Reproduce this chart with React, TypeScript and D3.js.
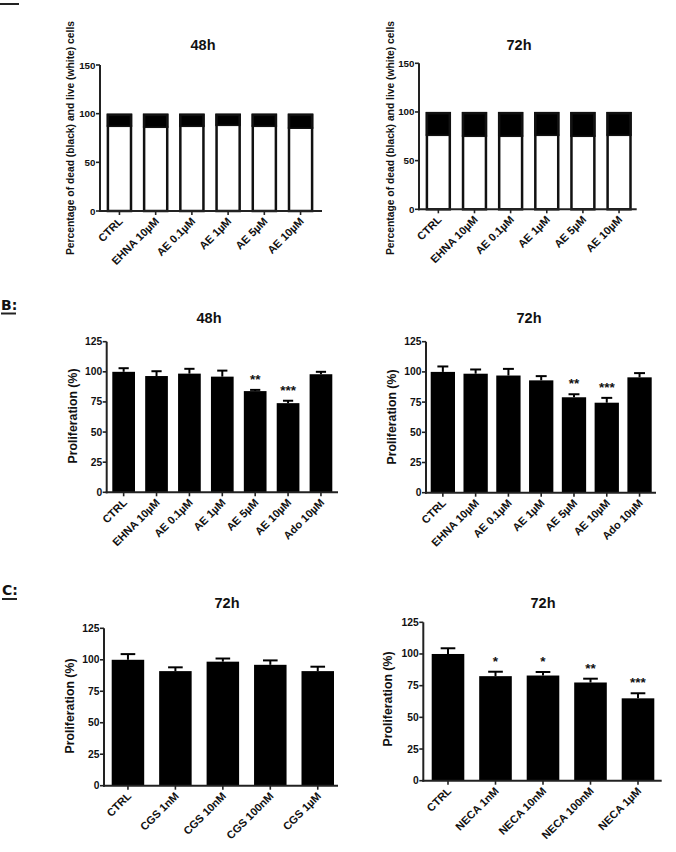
import React from "react";
import * as d3 from "d3";

// ---------- data ----------
const catA = ["CTRL", "EHNA 10µM", "AE 0.1µM", "AE 1µM", "AE 5µM", "AE 10µM"];
const liveA48 = [87, 86, 87, 88, 87, 85];
const liveA72 = [76, 75, 75, 76, 75, 76];
const ticksA = [0, 50, 100, 150];

const catB = ["CTRL", "EHNA 10µM", "AE 0.1µM", "AE 1µM", "AE 5µM", "AE 10µM", "Ado 10µM"];
const profB48 = [100, 96.5, 98.5, 96, 84, 74, 98];
const errB48 = [3, 4, 4, 5, 1, 2, 2];
const starsB48 = ["", "", "", "", "**", "***", ""];
const profB72 = [100, 98.5, 97, 93, 79, 74.5, 95.5];
const errB72 = [4.5, 3.5, 5.5, 3.5, 2.5, 4, 3.5];
const starsB72 = ["", "", "", "", "**", "***", ""];
const ticksB = [0, 25, 50, 75, 100, 125];

const catCgs = ["CTRL", "CGS 1nM", "CGS 10nM", "CGS 100nM", "CGS 1µM"];
const profCgs = [100, 91, 98.5, 96, 91];
const errCgs = [4.5, 3, 2.5, 3.5, 3.5];
const starsCgs = ["", "", "", "", ""];

const catNeca = ["CTRL", "NECA 1nM", "NECA 10nM", "NECA 100nM", "NECA 1µM"];
const profNeca = [100, 82.5, 83, 77.5, 65];
const errNeca = [4.5, 3.5, 2.8, 3, 4];
const starsNeca = ["", "*", "*", "**", "***"];

const FONT = "'Liberation Sans', Arial, Helvetica, sans-serif";

type PanelProps = {
  mode: "stack" | "bar";
  cats: string[];
  values: number[];
  errs?: number[];
  stars?: string[];
  ticks: number[];
  max: number;
  axisX: number;
  axisEnd: number;
  y0: number;
  yMax: number;
  firstLeft: number;
  lastRight: number;
  barW: number;
  title: string;
  titleX: number;
  titleY: number;
  ylabel: string;
  ylabelX: number;
  ylabelY: number;
  ylabelSize: number;
  tickSize: number;
};

function Panel(p: PanelProps) {
  const n = p.cats.length;
  const step = (p.lastRight - p.firstLeft - p.barW) / (n - 1);
  const pad = (step - p.barW) / step;
  const x = d3
    .scaleBand<string>()
    .domain(p.cats)
    .range([p.firstLeft - (step * pad) / 2, p.lastRight + (step * pad) / 2])
    .paddingInner(pad)
    .paddingOuter(pad / 2);
  const y = d3.scaleLinear().domain([0, p.max]).range([p.y0, p.yMax]);
  const bw = x.bandwidth();
  return (
    <g fontFamily={FONT} fontWeight="bold" fill="#111">
      <text x={p.titleX} y={p.titleY} textAnchor="middle" fontSize={14.5}>
        {p.title}
      </text>
      <text
        transform={`translate(${p.ylabelX},${p.ylabelY}) rotate(-90)`}
        textAnchor="middle"
        dominantBaseline="central"
        fontSize={p.ylabelSize}
      >
        {p.ylabel}
      </text>
      {p.cats.map((c, i) => {
        const bx = x(c)!;
        const v = p.values[i];
        if (p.mode === "stack") {
          return (
            <g key={c}>
              <rect x={bx} y={y(100)} width={bw} height={y(v) - y(100)} fill="#000" />
              <rect
                x={bx + 1.2}
                y={y(100) + 1.2}
                width={bw - 2.4}
                height={y(0) - y(100) - 1.2}
                fill="none"
                stroke="#111"
                strokeWidth={2.5}
              />
              <line x1={bx} x2={bx + bw} y1={y(v)} y2={y(v)} stroke="#111" strokeWidth={1.5} />
            </g>
          );
        }
        const e = p.errs ? p.errs[i] : 0;
        const cx = bx + bw / 2;
        const cap = bw * 0.45;
        return (
          <g key={c}>
            <line x1={cx} x2={cx} y1={y(v)} y2={y(v + e)} stroke="#000" strokeWidth={2} />
            <line
              x1={cx - cap / 2}
              x2={cx + cap / 2}
              y1={y(v + e)}
              y2={y(v + e)}
              stroke="#000"
              strokeWidth={2}
            />
            <rect x={bx} y={y(v)} width={bw} height={y(0) - y(v)} fill="#000" />
            {p.stars && p.stars[i] ? (
              <text x={cx} y={y(v + e) - 6} textAnchor="middle" fontSize={13.5}>
                {p.stars[i]}
              </text>
            ) : null}
          </g>
        );
      })}
      {/* y axis */}
      <line x1={p.axisX} x2={p.axisX} y1={y(p.max)} y2={y(0) + 1} stroke="#222" strokeWidth={2} />
      {p.ticks.map((t) => (
        <g key={t}>
          <line x1={p.axisX - 4} x2={p.axisX} y1={y(t)} y2={y(t)} stroke="#222" strokeWidth={1.6} />
          <text
            x={p.axisX - 4.5}
            y={y(t)}
            textAnchor="end"
            dominantBaseline="central"
            fontSize={p.tickSize}
          >
            {t}
          </text>
        </g>
      ))}
      {/* x axis */}
      <line x1={p.axisX - 1} x2={p.axisEnd} y1={y(0)} y2={y(0)} stroke="#222" strokeWidth={2} />
      {p.cats.map((c) => {
        const cx = x(c)! + bw / 2;
        return (
          <g key={c + "t"}>
            <line x1={cx} x2={cx} y1={y(0)} y2={y(0) + 4} stroke="#222" strokeWidth={1.6} />
            <text
              transform={`translate(${cx + 4},${y(0) + 11}) rotate(-45)`}
              textAnchor="end"
              fontSize={11}
            >
              {c}
            </text>
          </g>
        );
      })}
    </g>
  );
}

export default function App() {
  const labA = "Percentage of dead (black) and live (white) cells";
  const labP = "Proliferation (%)";
  return (
    <svg
      width={676}
      height={852}
      viewBox="0 0 676 852"
      style={{ position: "absolute", left: 0, top: 0, background: "#fff" }}
    >
      <rect x={0} y={0} width={676} height={852} fill="#fff" />
      {/* panel letters */}
      <line x1={0} x2={19} y1={4} y2={4} stroke="#222" strokeWidth={2} />
      <g fontFamily="'DejaVu Sans', Verdana, sans-serif" fontWeight="bold" fill="#111" fontSize={14}>
        <text x={1} y={310}>B:</text>
        <line x1={1} x2={16} y1={313.5} y2={313.5} stroke="#222" strokeWidth={2} />
        <text x={2} y={595}>C:</text>
        <line x1={2} x2={17} y1={599} y2={599} stroke="#222" strokeWidth={2} />
      </g>

      <Panel
        mode="stack"
        cats={catA}
        values={liveA48}
        ticks={ticksA}
        max={150}
        axisX={100}
        axisEnd={322}
        y0={211}
        yMax={65}
        firstLeft={106.7}
        lastRight={313.3}
        barW={25.5}
        title="48h"
        titleX={203}
        titleY={50}
        ylabel={labA}
        ylabelX={70}
        ylabelY={138}
        ylabelSize={10.3}
        tickSize={9.8}
      />
      <Panel
        mode="stack"
        cats={catA}
        values={liveA72}
        ticks={ticksA}
        max={150}
        axisX={419}
        axisEnd={636.7}
        y0={209.3}
        yMax={63.3}
        firstLeft={425.7}
        lastRight={631.7}
        barW={25.3}
        title="72h"
        titleX={519}
        titleY={50}
        ylabel={labA}
        ylabelX={390}
        ylabelY={138}
        ylabelSize={10.3}
        tickSize={9.8}
      />
      <Panel
        mode="bar"
        cats={catB}
        values={profB48}
        errs={errB48}
        stars={starsB48}
        ticks={ticksB}
        max={125}
        axisX={106.7}
        axisEnd={338}
        y0={492.3}
        yMax={341.7}
        firstLeft={112.3}
        lastRight={332.3}
        barW={22.7}
        title="48h"
        titleX={209}
        titleY={323}
        ylabel={labP}
        ylabelX={73}
        ylabelY={416}
        ylabelSize={12.3}
        tickSize={10.3}
      />
      <Panel
        mode="bar"
        cats={catB}
        values={profB72}
        errs={errB72}
        stars={starsB72}
        ticks={ticksB}
        max={125}
        axisX={426}
        axisEnd={656}
        y0={492.7}
        yMax={341.7}
        firstLeft={430.7}
        lastRight={651.7}
        barW={24.3}
        title="72h"
        titleX={529}
        titleY={323}
        ylabel={labP}
        ylabelX={392}
        ylabelY={417}
        ylabelSize={12.3}
        tickSize={10.3}
      />
      <Panel
        mode="bar"
        cats={catCgs}
        values={profCgs}
        errs={errCgs}
        stars={starsCgs}
        ticks={ticksB}
        max={125}
        axisX={104}
        axisEnd={338}
        y0={785.7}
        yMax={628.3}
        firstLeft={111.7}
        lastRight={334}
        barW={32.5}
        title="72h"
        titleX={227}
        titleY={608}
        ylabel={labP}
        ylabelX={70}
        ylabelY={706}
        ylabelSize={12.3}
        tickSize={10.3}
      />
      <Panel
        mode="bar"
        cats={catNeca}
        values={profNeca}
        errs={errNeca}
        stars={starsNeca}
        ticks={ticksB}
        max={125}
        axisX={423.3}
        axisEnd={661.7}
        y0={780.7}
        yMax={622.3}
        firstLeft={431.7}
        lastRight={654.3}
        barW={32.6}
        title="72h"
        titleX={543}
        titleY={608}
        ylabel={labP}
        ylabelX={388}
        ylabelY={699}
        ylabelSize={12.3}
        tickSize={10.3}
      />
    </svg>
  );
}
